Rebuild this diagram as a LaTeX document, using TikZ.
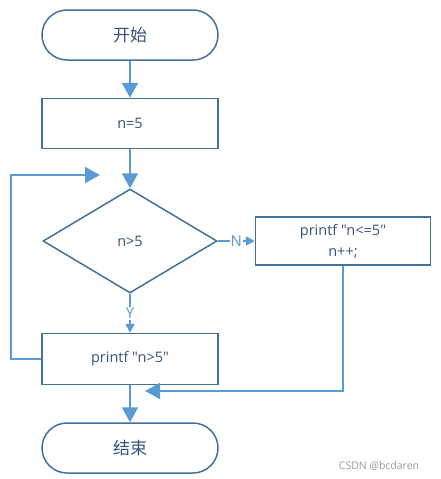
\documentclass[tikz,border=0pt]{standalone}
\usepackage{fontspec}
\setmainfont{Open Sans}[Ligatures=TeXOff]
\newfontfamily\cjk{Noto Sans CJK SC}
\usetikzlibrary{positioning, shapes.geometric, arrows.meta}

\definecolor{shapeline}{RGB}{65,113,156}
\definecolor{arrowline}{RGB}{91,155,213}
\definecolor{labeltext}{RGB}{55,82,122}

\tikzset{
  terminal/.style={draw=shapeline, line width=1.5pt, rounded corners=25pt,
    minimum width=176pt, minimum height=50pt, text=labeltext, font=\cjk\fontsize{17}{20}\selectfont},
  process/.style={draw=shapeline, line width=1.5pt, minimum width=176pt,
    minimum height=50pt, text=labeltext, align=center, font=\fontsize{14.5}{22}\selectfont},
  decision/.style={draw=shapeline, line width=1.5pt, diamond, inner sep=0pt,
    minimum width=174pt, minimum height=104pt, text=labeltext, font=\fontsize{14.5}{17}\selectfont},
  flow/.style={draw=arrowline, line width=1.7pt, -{Triangle[width=16pt,length=15pt]}},
  branch/.style={draw=arrowline, line width=1.7pt, -{Triangle[width=9pt,length=9pt]}},
  tag/.style={fill=white, inner sep=1pt, text=arrowline, font=\fontsize{15}{17}\selectfont}
}

\begin{document}
\begin{tikzpicture}[x=1pt, y=1pt, node distance=38pt]
\useasboundingbox (0,0) rectangle (441,-479);

  % Main column
  \node[terminal] (start) at (130,-35) {开始};
  \node[process, below=37pt of start] (init) {n=5};
  \node[decision, below=39pt of init] (test) {n>5};
  \node[process, below=39pt of test, minimum height=51pt] (yes) {printf "n>5"};
  \node[terminal, below=37pt of yes] (stop) {结束};

  % Side branch
  \node[process, right=37pt of test, minimum width=175pt, minimum height=48pt,
    font=\fontsize{14.5}{21}\selectfont] (no) {printf "n<=5"\\n++;};

  % Free ends of the loop arrows
  \coordinate (loopend) at (100,-175);
  \coordinate (joinend) at (145,-391);

  % Watermark
  \node[text=gray!80, font=\fontsize{10.5}{12}\selectfont] (mark) at (379,-466) {CSDN @bcdaren};

  % Edges
  \draw[flow] (start) -- (init);
  \draw[flow] (init) -- (test);
  \draw[flow] (yes) -- (stop);
  \draw[branch] (test) -- node[tag] {N} (no);
  \draw[branch] (test) -- node[tag] {Y} (yes);
  \draw[flow] (yes.west) -- ++(-30,0) |- (loopend);
  \draw[flow] (no.south) |- (joinend);

\end{tikzpicture}
\end{document}
